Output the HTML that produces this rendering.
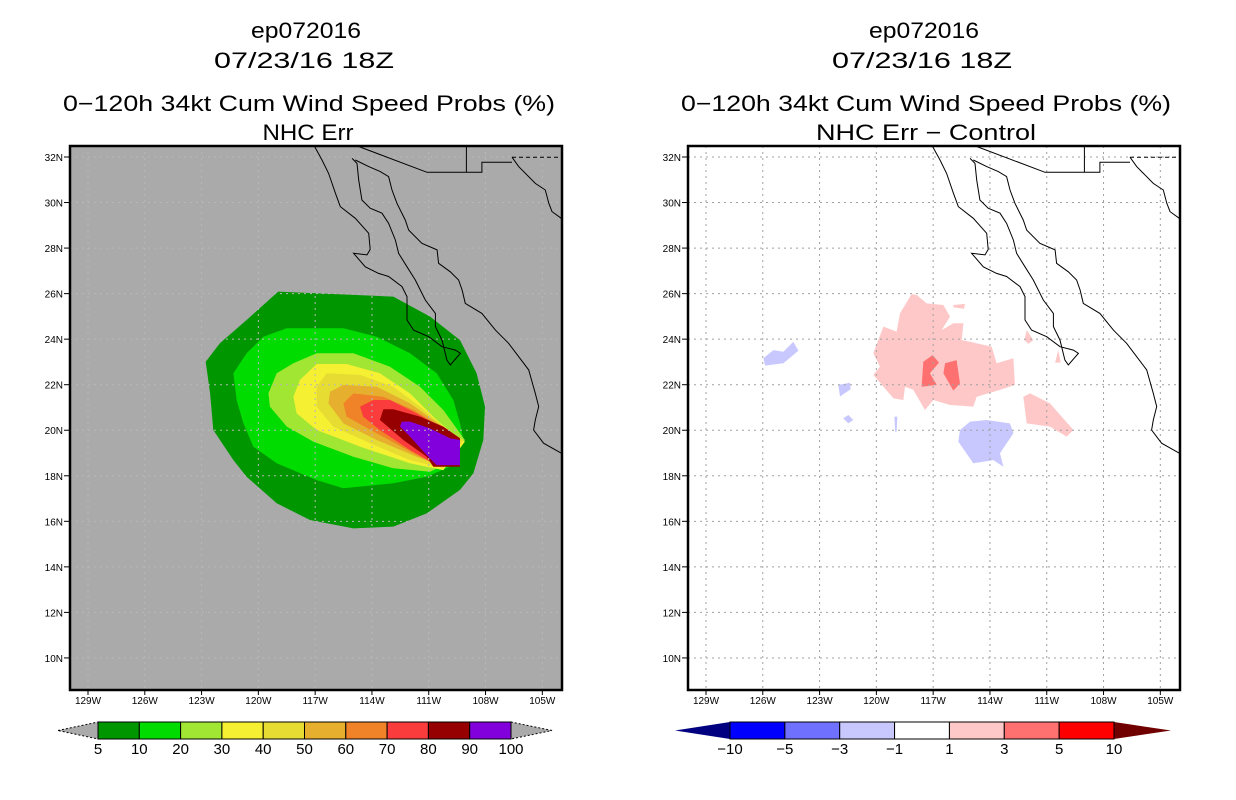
<!DOCTYPE html>
<html><head><meta charset="utf-8">
<style>
html,body{margin:0;padding:0;background:#fff;}
svg{display:block;}
text{font-family:"Liberation Sans","DejaVu Sans",sans-serif;fill:#000;}
.t{font-size:22px;}
.tk{font-size:10px;}
.cb{font-size:15px;}
</style></head>
<body>
<svg id="chart" width="1236" height="800" viewBox="0 0 1236 800" xmlns="http://www.w3.org/2000/svg">
  <rect x="0" y="0" width="1236" height="800" fill="#fff"/>
  <g>
    <text class="t" x="306" y="38" text-anchor="middle" textLength="110" lengthAdjust="spacingAndGlyphs">ep072016</text>
    <text class="t" x="304" y="68" text-anchor="middle" textLength="180" lengthAdjust="spacingAndGlyphs">07/23/16 18Z</text>
    <text class="t" x="309" y="111" text-anchor="middle" textLength="492" lengthAdjust="spacingAndGlyphs">0−120h 34kt Cum Wind Speed Probs (%)</text>
    <text class="t" x="308" y="140" text-anchor="middle" textLength="91" lengthAdjust="spacingAndGlyphs">NHC Err</text>
  </g>
  <g>
    <text class="t" x="924" y="38" text-anchor="middle" textLength="110" lengthAdjust="spacingAndGlyphs">ep072016</text>
    <text class="t" x="922" y="68" text-anchor="middle" textLength="180" lengthAdjust="spacingAndGlyphs">07/23/16 18Z</text>
    <text class="t" x="926" y="111" text-anchor="middle" textLength="490" lengthAdjust="spacingAndGlyphs">0−120h 34kt Cum Wind Speed Probs (%)</text>
    <text class="t" x="926" y="140" text-anchor="middle" textLength="220" lengthAdjust="spacingAndGlyphs">NHC Err − Control</text>
  </g>
  <g id="leftPanel"></g>
  <g id="rightPanel"></g>
  <g id="leftBar"></g>
  <g id="rightBar"></g>
</svg>
<script>
const latTicks = [32,30,28,26,24,22,20,18,16,14,12,10];
const lonTicks = [129,126,123,120,117,114,111,108,105];
const probLevels = [5,10,20,30,40,50,60,70,80,90,100];
const probColors = ['#009600','#00dc00','#a0e632','#f5f032','#e6dc32','#e6af2d','#f08228','#fa3c3c','#960000','#8200dc'];
const diffLevels = [-10,-5,-3,-1,1,3,5,10];
const diffColors = ['#0000ff','#7070ff','#c8c8ff','#ffffff','#ffc8c8','#ff7070','#ff0000'];

// contour polygons [lonW, latN]
const p5 = [[118.95,26.09],[112.87,25.87],[110.93,24.99],[109.35,23.96],[108.47,22.50],[108.03,21.04],[108.12,19.57],[108.64,18.11],[109.35,17.38],[111.11,16.35],[112.87,15.77],[114.98,15.69],[117.27,16.06],[119.03,16.79],[120.62,17.96],[121.32,18.69],[122.38,20.01],[122.55,21.62],[122.78,23.01],[122.03,23.82],[120.62,24.84]];
const p10 = [[118.50,24.48],[115.51,24.48],[113.75,24.11],[111.99,23.38],[110.58,22.50],[109.70,21.33],[109.35,20.30],[109.17,19.57],[109.88,18.40],[111.11,17.96],[112.87,17.67],[115.51,17.45],[116.92,17.81],[119.03,18.55],[120.27,19.28],[120.79,20.30],[121.15,21.33],[121.32,22.50],[120.62,23.38],[119.74,24.11]];
const p20 = [[116.92,23.38],[114.98,23.38],[113.05,22.79],[111.46,21.91],[110.23,20.89],[109.09,19.57],[109.70,18.69],[110.93,18.18],[112.87,18.33],[114.98,18.84],[117.10,19.50],[118.50,20.16],[119.39,21.04],[119.47,21.62],[119.03,22.50],[118.15,22.94]];
const p30 = [[116.92,22.91],[115.34,22.91],[113.58,22.50],[111.99,21.62],[110.58,20.45],[109.53,19.72],[109.09,19.50],[110.23,18.25],[111.99,18.55],[114.63,19.28],[116.92,20.01],[117.98,20.74],[118.15,21.47],[117.80,22.21]];
const p40 = [[116.39,22.50],[114.63,22.43],[112.87,21.91],[111.46,21.04],[110.23,20.16],[109.17,19.57],[110.23,18.33],[111.99,18.69],[114.10,19.43],[116.04,20.16],[116.92,21.04],[116.92,21.91]];
const p50 = [[115.51,21.99],[113.75,21.91],[111.99,21.18],[110.76,20.45],[109.35,19.65],[110.23,18.40],[111.64,18.84],[113.75,19.57],[115.51,20.30],[116.30,21.18],[116.21,21.69]];
const p60 = [[114.98,21.62],[113.40,21.47],[111.81,20.89],[109.35,19.65],[110.41,18.40],[111.81,18.99],[113.75,19.87],[115.34,20.60],[115.51,21.18]];
const p70 = [[113.93,21.33],[113.05,21.33],[111.64,20.74],[109.35,19.65],[110.58,18.47],[111.99,19.13],[113.58,20.01],[114.46,20.60],[114.63,21.04]];
const p80 = [[113.40,20.92],[112.87,20.92],[111.46,20.60],[110.23,20.16],[109.35,19.65],[109.35,18.40],[110.76,18.40],[111.11,18.84],[112.34,19.57],[113.58,20.45]];
const p90 = [[112.43,20.38],[111.99,20.38],[110.93,20.08],[109.88,19.65],[109.35,19.57],[109.35,18.47],[110.58,18.47],[111.11,18.91],[111.99,19.72],[112.52,20.16]];

// difference polygons
const dPink1 = [[118.14,25.98],[117.87,25.94],[117.34,25.57],[116.46,25.50],[116.11,24.99],[116.55,24.40],[115.93,24.70],[115.40,24.70],[115.49,23.96],[115.05,23.89],[113.91,23.67],[113.65,22.94],[112.76,23.16],[112.68,21.99],[113.47,21.77],[114.70,21.47],[114.88,21.04],[116.11,21.11],[116.99,21.33],[117.43,20.89],[118.05,21.77],[118.49,21.91],[118.58,21.33],[119.10,21.40],[120.16,22.43],[119.81,22.79],[120.16,23.38],[119.63,24.55],[118.93,24.33],[118.75,25.13]];
const dPink2 = [[112.24,21.47],[111.88,21.62],[110.83,21.18],[109.59,20.01],[109.95,19.72],[110.83,20.16],[112.06,20.30]];
const dPink3 = [[115.93,25.50],[115.32,25.55],[115.37,25.33],[115.93,25.40]];
const dPink4 = [[112.06,24.40],[111.71,23.96],[111.97,23.79],[112.18,23.96]];
const dPink5 = [[110.39,23.52],[110.26,22.97],[110.56,22.97]];
const dRed1 = [[117.03,23.30],[116.69,22.97],[117.17,22.50],[116.81,21.99],[117.61,21.91],[117.52,23.01]];
const dRed2 = [[116.37,22.94],[115.76,23.08],[115.58,22.06],[115.93,21.74],[116.46,22.50]];
const dBlue1 = [[115.05,20.38],[114.17,20.45],[112.94,20.30],[112.76,19.87],[113.47,18.99],[113.29,18.40],[113.82,18.69],[114.88,18.55],[115.67,19.50],[115.58,20.01]];
const dBlue2 = [[125.97,23.16],[125.44,23.52],[124.91,23.45],[124.39,23.89],[124.12,23.49],[124.91,22.94],[125.88,22.84]];
const dBlue3 = [[122.01,21.99],[121.39,22.09],[121.36,21.80],[121.92,21.48]];
const dBlue4 = [[121.75,20.52],[121.48,20.67],[121.22,20.45],[121.48,20.30]];
const dBlue5 = [[119.05,20.60],[118.89,20.60],[118.93,19.94],[119.01,19.94]];

// coastlines / borders
const bajaCoast = [[117.03,32.46],[116.64,31.87],[116.29,31.28],[115.93,30.41],[115.67,29.82],[114.88,29.31],[114.17,28.65],[114.09,27.94],[114.26,27.70],[114.97,27.77],[114.35,27.18],[113.65,26.89],[113.12,26.75],[112.41,26.31],[112.15,25.87],[112.15,24.84],[111.80,24.40],[111.00,24.11],[110.30,23.67],[109.59,23.52],[109.33,23.38],[109.86,22.87],[110.04,23.08],[110.30,23.96],[110.65,24.55],[110.65,25.13],[111.18,25.72],[111.71,26.60],[112.15,27.18],[112.59,27.77],[112.76,28.35],[113.12,29.09],[113.47,29.53],[114.09,29.75],[114.53,30.11],[114.70,30.99],[114.79,31.72],[115.05,31.94]];
const mainCoast = [[114.88,31.87],[114.17,31.58],[113.56,31.36],[113.12,31.14],[112.94,30.55],[112.68,29.97],[112.24,29.23],[112.06,28.79],[111.36,28.21],[110.56,27.92],[110.48,27.33],[109.86,26.96],[109.42,26.60],[109.24,26.16],[109.07,25.57],[108.19,25.13],[107.48,24.40],[106.78,23.82],[106.25,23.23],[105.72,22.65],[105.37,21.62],[105.19,21.04],[105.37,20.45],[105.46,20.01],[104.93,19.43],[104.00,18.99]];
const border1 = [[114.70,32.46],[111.09,31.33],[109.01,31.33],[108.19,31.33],[108.19,31.77],[106.60,31.77]];
const border2 = [[109.01,31.33],[109.01,32.46]];
const borderDash = [[106.60,31.99],[104.00,31.99]];
const neCoast = [[106.60,31.99],[106.25,31.58],[105.37,30.84],[104.84,30.55],[104.66,29.97],[104.49,29.60],[104.00,29.31]];

const NS = 'http://www.w3.org/2000/svg';
const TOP = 146, BOT = 690;
function yOf(lat){ return 157 + (32 - lat) * 22.77; }
function xOf(off, lonW){ return off + 88 + (129 - lonW) * 18.93; }
function mk(tag, attrs, parent){
  const e = document.createElementNS(NS, tag);
  for (const k in attrs) e.setAttribute(k, attrs[k]);
  parent.appendChild(e);
  return e;
}
function pts(off, arr){ return arr.map(p => xOf(off,p[0]).toFixed(1)+','+yOf(p[1]).toFixed(1)).join(' '); }

function drawPanel(g, off, bg, gridCol, polys){
  const L = 70 + off, R = 562 + off;
  const clipId = 'clip' + off;
  const cp = mk('clipPath', {id: clipId}, g);
  mk('rect', {x: L, y: TOP, width: R - L, height: BOT - TOP}, cp);
  const bgr = mk('rect', {x: L, y: TOP, width: R - L, height: BOT - TOP, fill: bg}, g);
  
  
  const inner = mk('g', {'clip-path': 'url(#' + clipId + ')'}, g);
  polys.forEach(pp => {
    const pg = mk('polygon', {points: pts(off, pp.d), fill: pp.c}, inner);
    
    
  });
  lonTicks.forEach(lon => {
    const x = xOf(off, lon);
    const ln = mk('line', {x1: x, x2: x, y1: TOP, y2: BOT, stroke: gridCol, 'stroke-width': 1, 'stroke-dasharray': '2,4'}, inner);
    
    
  });
  latTicks.forEach(lat => {
    const y = yOf(lat);
    const ln = mk('line', {x1: L, x2: R, y1: y, y2: y, stroke: gridCol, 'stroke-width': 1, 'stroke-dasharray': '2,4'}, inner);
    
    
  });
  [bajaCoast, mainCoast, border1, border2, neCoast].forEach(c => {
    const pl = mk('polyline', {points: pts(off, c), fill: 'none', stroke: '#000', 'stroke-width': 1}, inner);
    
    
  });
  const bd = mk('polyline', {points: pts(off, borderDash), fill: 'none', stroke: '#000', 'stroke-width': 1, 'stroke-dasharray': '4,3'}, inner);
  
  
  const fr = mk('rect', {x: L, y: TOP, width: R - L, height: BOT - TOP, fill: 'none', stroke: '#000', 'stroke-width': 2.5}, g);
  
  
  latTicks.forEach(lat => {
    const y = yOf(lat);
    mk('line', {x1: L - 6, x2: L, y1: y, y2: y, stroke: '#000', 'stroke-width': 1}, g);
    const t = mk('text', {x: L - 7, y: y + 4, 'text-anchor': 'end', class: 'tk'}, g);
    t.textContent = lat + 'N';
    
    
  });
  lonTicks.forEach(lon => {
    const x = xOf(off, lon);
    mk('line', {x1: x, x2: x, y1: BOT, y2: BOT + 5, stroke: '#000', 'stroke-width': 1}, g);
    const t = mk('text', {x: x, y: BOT + 14, 'text-anchor': 'middle', class: 'tk'}, g);
    t.textContent = lon + 'W';
    
    
  });
}

const leftPolys = [p5,p10,p20,p30,p40,p50,p60,p70,p80,p90].map((d,i)=>({d:d, c:probColors[i], n:'prob-contour-'+probLevels[i]}));
drawPanel(document.getElementById('leftPanel'), 0, '#aaaaaa', '#b8b8b8', leftPolys);
const rightPolys = [
  {d:dPink1,c:diffColors[4],n:'diff-pos-1-3'},{d:dPink2,c:diffColors[4],n:'diff-pos-1-3'},
  {d:dPink3,c:diffColors[4],n:'diff-pos-1-3'},{d:dPink4,c:diffColors[4],n:'diff-pos-1-3'},
  {d:dPink5,c:diffColors[4],n:'diff-pos-1-3'},
  {d:dRed1,c:diffColors[5],n:'diff-pos-3-5'},{d:dRed2,c:diffColors[5],n:'diff-pos-3-5'},
  {d:dBlue1,c:diffColors[2],n:'diff-neg-1-3'},{d:dBlue2,c:diffColors[2],n:'diff-neg-1-3'},
  {d:dBlue3,c:diffColors[2],n:'diff-neg-1-3'},{d:dBlue4,c:diffColors[2],n:'diff-neg-1-3'},
  {d:dBlue5,c:diffColors[2],n:'diff-neg-1-3'}
];
drawPanel(document.getElementById('rightPanel'), 618, '#ffffff', '#a0a0a0', rightPolys);

function drawBar(g, x0, x1, tipL, tipR, colors, levels, triL, triR, dashed){
  const y0 = 722, y1 = 739, ym = 730.5;
  const w = (x1 - x0) / colors.length;
  const tl = mk('polygon', {points: tipL+','+ym+' '+x0+','+y0+' '+x0+','+y1, fill: triL, stroke: dashed ? '#000' : 'none', 'stroke-width': 1, 'stroke-dasharray': dashed ? '2,2' : 'none'}, g);
  
  
  const tr = mk('polygon', {points: tipR+','+ym+' '+x1+','+y0+' '+x1+','+y1, fill: triR, stroke: dashed ? '#000' : 'none', 'stroke-width': 1, 'stroke-dasharray': dashed ? '2,2' : 'none'}, g);
  
  
  colors.forEach((c, i) => {
    const r = mk('rect', {x: x0 + i*w, y: y0, width: w, height: y1 - y0, fill: c, stroke: '#000', 'stroke-width': 1}, g);
    
    
  });
  levels.forEach((v, i) => {
    const t = mk('text', {x: x0 + i*w, y: 754, 'text-anchor': 'middle', class: 'cb'}, g);
    t.textContent = String(v).replace('-', '−');
    
    
  });
}
drawBar(document.getElementById('leftBar'), 98, 511, 58, 552, probColors, probLevels, '#aaaaaa', '#aaaaaa', true);
drawBar(document.getElementById('rightBar'), 730, 1114, 675, 1171, diffColors, diffLevels, '#000080', '#700000', false);
</script>
</body></html>
